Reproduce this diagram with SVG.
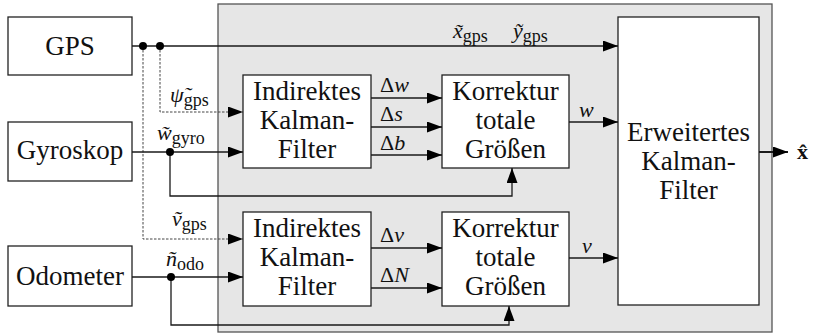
<svg xmlns="http://www.w3.org/2000/svg" width="827" height="334" viewBox="0 0 827 334">
<defs>
<style>
text{font-family:"Liberation Serif","Times New Roman","DejaVu Serif",serif}
.box{fill:#fff;stroke:#222;stroke-width:1.3}
.t{font-size:27px;fill:#111;text-anchor:middle}
.m{font-size:22px;font-style:italic;fill:#111}
.s{font-style:normal;font-size:18px}
.ln{fill:none;stroke:#1a1a1a;stroke-width:1.3}
.dl{fill:none;stroke:#444;stroke-width:1;stroke-dasharray:2.5 1.5}
.ar{marker-end:url(#ah)}
.dot{fill:#000}
</style>
<marker id="ah" markerUnits="userSpaceOnUse" markerWidth="16" markerHeight="12" refX="15" refY="5.5" orient="auto">
<path d="M0,0 L15,5.5 L0,11 z" fill="#000"/>
</marker>
</defs>
<rect x="218" y="4" width="554" height="328" fill="#e6e6e6" stroke="#555" stroke-width="1.3"/>
<g id="gps"><rect class="box" x="8" y="17" width="124" height="58"/><text class="t" x="70" y="55">GPS</text></g>
<g id="gyroskop"><rect class="box" x="8" y="122" width="124" height="59"/><text class="t" x="70" y="159">Gyroskop</text></g>
<g id="odometer"><rect class="box" x="8" y="246" width="124" height="60"/><text class="t" x="70" y="285">Odometer</text></g>
<g id="ikf1"><rect class="box" x="243" y="75" width="128" height="93"/><text class="t" x="307" y="100">Indirektes</text><text class="t" x="307" y="129">Kalman-</text><text class="t" x="307" y="158">Filter</text></g>
<g id="kor1"><rect class="box" x="442" y="75" width="127" height="93"/><text class="t" x="505.5" y="100">Korrektur</text><text class="t" x="505.5" y="129">totale</text><text class="t" x="505.5" y="158">Größen</text></g>
<g id="ikf2"><rect class="box" x="243" y="212" width="128" height="94"/><text class="t" x="307" y="237">Indirektes</text><text class="t" x="307" y="266">Kalman-</text><text class="t" x="307" y="295">Filter</text></g>
<g id="kor2"><rect class="box" x="442" y="212" width="127" height="94"/><text class="t" x="505.5" y="237">Korrektur</text><text class="t" x="505.5" y="266">totale</text><text class="t" x="505.5" y="295">Größen</text></g>
<g id="ekf"><rect class="box" x="618" y="17" width="141" height="288"/><text class="t" x="688.5" y="141">Erweitertes</text><text class="t" x="688.5" y="170">Kalman-</text><text class="t" x="688.5" y="199">Filter</text></g>
<g id="connectors">
<path class="ln ar" d="M132,46 H618"/>
<path class="dl ar" d="M143,46 V239 H243"/>
<path class="dl ar" d="M160,46 V112 H243"/>
<path class="ln ar" d="M132,152 H243"/>
<path class="ln ar" d="M170,152 V196 H512 V168"/>
<path class="ln ar" d="M132,277 H243"/>
<path class="ln ar" d="M171,277 V325 H509 V306"/>
<path class="ln ar" d="M371,98 H442"/>
<path class="ln ar" d="M371,127 H442"/>
<path class="ln ar" d="M371,155 H442"/>
<path class="ln ar" d="M371,248 H442"/>
<path class="ln ar" d="M371,288 H442"/>
<path class="ln ar" d="M569,122 H618"/>
<path class="ln ar" d="M569,258 H618"/>
<path class="ln ar" d="M759,152 H788" style="stroke-width:2"/>
<circle class="dot" cx="143" cy="46" r="4"/>
<circle class="dot" cx="160" cy="46" r="4"/>
<circle class="dot" cx="170" cy="152" r="4"/>
<circle class="dot" cx="171" cy="277" r="4"/>
</g>
<g id="labels">
<text class="m" x="453" y="38">x̃<tspan class="s" dy="4">gps</tspan></text>
<text class="m" x="513" y="38">ỹ<tspan class="s" dy="4">gps</tspan></text>
<text class="m" x="170" y="102">ψ̃<tspan class="s" dy="4">gps</tspan></text>
<text class="m" x="157" y="140">w̃<tspan class="s" dy="4">gyro</tspan></text>
<text class="m" x="172" y="226">ṽ<tspan class="s" dy="4">gps</tspan></text>
<text class="m" x="166" y="266">ñ<tspan class="s" dy="4">odo</tspan></text>
<text class="m" x="380" y="92"><tspan font-style="normal">Δ</tspan>w</text>
<text class="m" x="380" y="121"><tspan font-style="normal">Δ</tspan>s</text>
<text class="m" x="380" y="150"><tspan font-style="normal">Δ</tspan>b</text>
<text class="m" x="380" y="242"><tspan font-style="normal">Δ</tspan>v</text>
<text class="m" x="380" y="282"><tspan font-style="normal">Δ</tspan>N</text>
<text class="m" x="579" y="117">w</text>
<text class="m" x="582" y="253">v</text>
<text x="797" y="159" font-size="22" font-weight="bold" fill="#111">x̂</text>
</g>
</svg>
